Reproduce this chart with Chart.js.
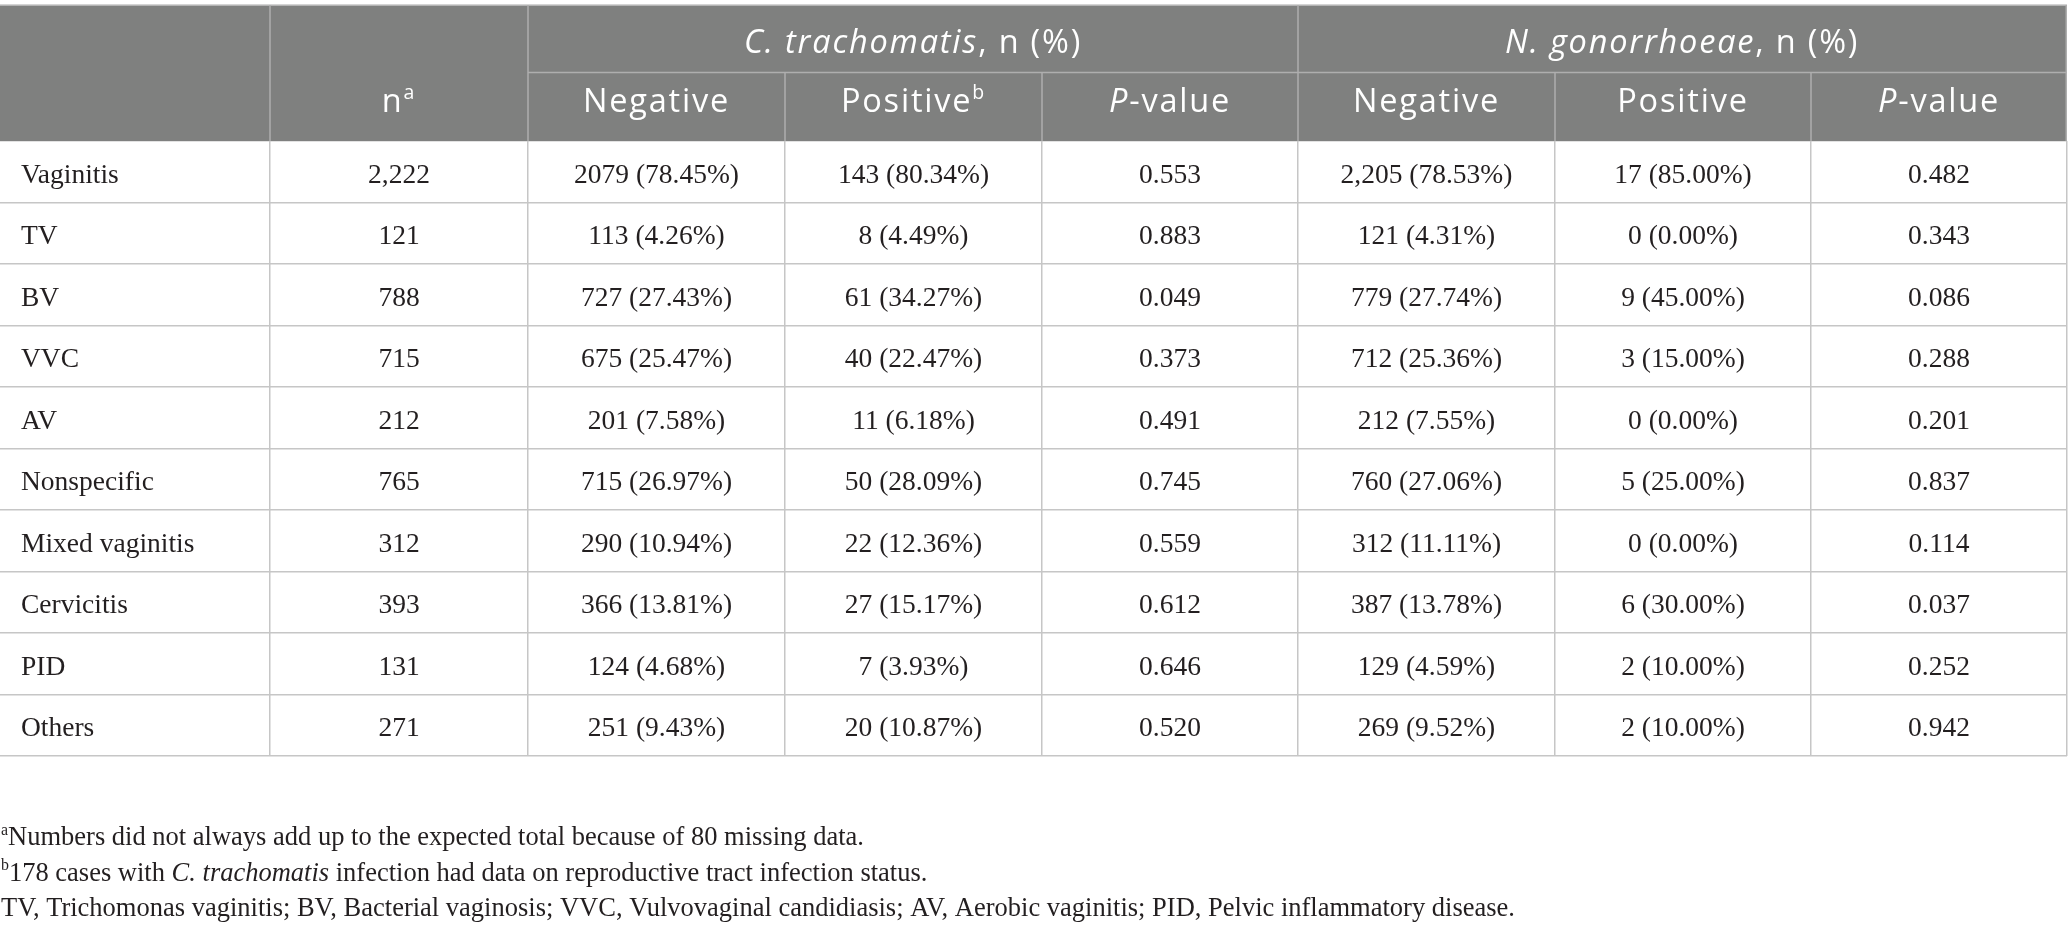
<!DOCTYPE html>
<html>
<head>
<meta charset="utf-8">
<script src="https://cdn.jsdelivr.net/npm/chart.js@4.4.1/dist/chart.umd.min.js"></script>
<style>
  html, body { margin: 0; padding: 0; background: #fff; }
</style>
</head>
<body>
<canvas id="tbl" width="2068" height="932"></canvas>
<script>
// row labels
var categories = ['Vaginitis', 'TV', 'BV', 'VVC', 'AV', 'Nonspecific', 'Mixed vaginitis', 'Cervicitis', 'PID', 'Others'];
var totalN = [2222, 121, 788, 715, 212, 765, 312, 393, 131, 271];

// C. trachomatis
var ctNegN = [2079, 113, 727, 675, 201, 715, 290, 366, 124, 251];
var ctNegPct = [78.45, 4.26, 27.43, 25.47, 7.58, 26.97, 10.94, 13.81, 4.68, 9.43];
var ctPosN = [143, 8, 61, 40, 11, 50, 22, 27, 7, 20];
var ctPosPct = [80.34, 4.49, 34.27, 22.47, 6.18, 28.09, 12.36, 15.17, 3.93, 10.87];
var ctP = [0.553, 0.883, 0.049, 0.373, 0.491, 0.745, 0.559, 0.612, 0.646, 0.520];

// N. gonorrhoeae
var ngNegN = [2205, 121, 779, 712, 212, 760, 312, 387, 129, 269];
var ngNegPct = [78.53, 4.31, 27.74, 25.36, 7.55, 27.06, 11.11, 13.78, 4.59, 9.52];
var ngPosN = [17, 0, 9, 3, 0, 5, 0, 6, 2, 2];
var ngPosPct = [85.00, 0.00, 45.00, 15.00, 0.00, 25.00, 0.00, 30.00, 10.00, 10.00];
var ngP = [0.482, 0.343, 0.086, 0.288, 0.201, 0.837, 0.114, 0.037, 0.252, 0.942];

var columns = ['group', 'n', 'ctNeg', 'ctPos', 'ctP', 'ngNeg', 'ngPos', 'ngP'];
var groupHeaders = [
  { from: 2, to: 5, runs: [{ t: 'C. trachomatis', i: true }, { t: ', n (%)' }] },
  { from: 5, to: 8, runs: [{ t: 'N. gonorrhoeae', i: true }, { t: ', n (%)' }] }
];
var subHeaders = [
  [],
  [{ t: 'n' }, { t: 'a', sup: true }],
  [{ t: 'Negative' }],
  [{ t: 'Positive' }, { t: 'b', sup: true }],
  [{ t: 'P', i: true }, { t: '-value' }],
  [{ t: 'Negative' }],
  [{ t: 'Positive' }],
  [{ t: 'P', i: true }, { t: '-value' }]
];
var footnotes = [
  [{ t: 'a', sup: true }, { t: 'Numbers did not always add up to the expected total because of 80 missing data.' }],
  [{ t: 'b', sup: true }, { t: '178 cases with ' }, { t: 'C. trachomatis', i: true }, { t: ' infection had data on reproductive tract infection status.' }],
  [{ t: 'TV, Trichomonas vaginitis; BV, Bacterial vaginosis; VVC, Vulvovaginal candidiasis; AV, Aerobic vaginitis; PID, Pelvic inflammatory disease.' }]
];

// layout: column widths (px units on the x scale)
var COL_W = [270, 258, 257, 257, 256, 257, 256, 256];
var colEdges = [0];
COL_W.forEach(function (w, i) { colEdges.push(colEdges[i] + w); });

var HEAD_BG = '#7f807f';
var HEAD_LINE = '#aeaeae';
var GRID = '#c6c6c6';
var TEXT = '#231f20';
var SANS = '"Open Sans", "Noto Sans", sans-serif';
var SERIF = '"Liberation Serif", "DejaVu Serif", serif';

function count(v, comma) {
  return comma ? v.toLocaleString('en-US') : String(v);
}
function np(n, pct, comma) {
  return count(n, comma) + ' (' + pct.toFixed(2) + '%)';
}
function cellText(r, c) {
  switch (c) {
    case 0: return categories[r];
    case 1: return count(totalN[r], true);
    case 2: return np(ctNegN[r], ctNegPct[r], false);
    case 3: return np(ctPosN[r], ctPosPct[r], false);
    case 4: return ctP[r].toFixed(3);
    case 5: return np(ngNegN[r], ngNegPct[r], true);
    case 6: return np(ngPosN[r], ngPosPct[r], false);
    case 7: return ngP[r].toFixed(3);
  }
}

// draws mixed runs (italic / superscript) on one baseline
function drawRuns(ctx, runs, x, base, align, size, family, color, spacing) {
  function font(r) {
    return (r.i ? 'italic ' : '') + (r.sup ? size * 0.6 : size) + 'px ' + family;
  }
  ctx.letterSpacing = (spacing || 0) + 'px';
  var w = 0;
  runs.forEach(function (r) { ctx.font = font(r); w += ctx.measureText(r.t).width; });
  var cx = align === 'center' ? x - w / 2 : x;
  ctx.fillStyle = color;
  ctx.textAlign = 'left';
  ctx.textBaseline = 'alphabetic';
  runs.forEach(function (r) {
    ctx.font = font(r);
    ctx.fillText(r.t, cx, r.sup ? base - size * 0.38 : base);
    cx += ctx.measureText(r.t).width;
  });
  ctx.letterSpacing = '0px';
}

var tablePlugin = {
  id: 'tableCells',
  afterDraw: function (chart) {
    var ctx = chart.ctx, xs = chart.scales.x, ys = chart.scales.y;
    var area = chart.chartArea;
    var headTop = 5, headMid = 72.5, headBot = area.top;
    function edge(i) { return Math.min(xs.getPixelForValue(colEdges[i]), xs.right - 0.75); }
    function mid(c) { return xs.getPixelForValue((colEdges[c] + colEdges[c + 1]) / 2); }
    function line(x1, y1, x2, y2, col) {
      ctx.beginPath(); ctx.strokeStyle = col; ctx.lineWidth = 1.5;
      ctx.moveTo(x1, y1); ctx.lineTo(x2, y2); ctx.stroke();
    }
    ctx.save();
    // header block
    ctx.fillStyle = HEAD_BG;
    ctx.fillRect(xs.left, headTop, xs.right - xs.left, headBot - headTop);
    line(xs.left, headTop, xs.right, headTop, GRID);
    [1, 2, 5, 8].forEach(function (i) { line(edge(i), headTop, edge(i), headBot, HEAD_LINE); });
    [3, 4, 6, 7].forEach(function (i) { line(edge(i), headMid, edge(i), headBot, HEAD_LINE); });
    line(edge(2), headMid, xs.right, headMid, HEAD_LINE);

    groupHeaders.forEach(function (g) {
      drawRuns(ctx, g.runs, (edge(g.from) + edge(g.to)) / 2, 53, 'center', 32.5, SANS, '#ffffff', 1.8);
    });
    subHeaders.forEach(function (runs, c) {
      if (runs.length) drawRuns(ctx, runs, mid(c), headMid + 39, 'center', 32.5, SANS, '#ffffff', 1.8);
    });

    // body cells
    categories.forEach(function (cat, r) {
      var base = ys.getPixelForValue(r) + 11;
      for (var c = 0; c < columns.length; c++) {
        var txt = cellText(r, c);
        if (c === 0) drawRuns(ctx, [{ t: txt }], edge(0) + 21, base, 'left', 27.5, SERIF, TEXT);
        else drawRuns(ctx, [{ t: txt }], mid(c), base, 'center', 27.5, SERIF, TEXT);
      }
    });

    // footnotes
    footnotes.forEach(function (runs, k) {
      drawRuns(ctx, runs, 1, area.bottom + 89 + k * 35.5, 'left', 26.5, SERIF, TEXT);
    });
    ctx.restore();
  }
};

var ctx = document.getElementById('tbl').getContext('2d');
var chart = new Chart(ctx, {
  type: 'bar',
  data: { labels: categories, datasets: [] },
  options: {
    responsive: false,
    animation: false,
    indexAxis: 'y',
    layout: { padding: { top: 141, bottom: 176, left: 0, right: 1 } },
    scales: {
      x: {
        type: 'linear',
        min: 0,
        max: colEdges[colEdges.length - 1],
        afterBuildTicks: function (scale) {
          scale.ticks = colEdges.map(function (v) { return { value: v }; });
        },
        grid: {
          drawTicks: false, lineWidth: 1.5,
          color: function (c) { return c.index === 0 ? 'rgba(0,0,0,0)' : GRID; }
        },
        border: { display: false },
        ticks: { display: false }
      },
      y: {
        type: 'category',
        labels: categories,
        offset: true,
        grid: { offset: true, drawTicks: false, lineWidth: 1.5, color: GRID },
        border: { display: false },
        ticks: { display: false }
      }
    },
    plugins: {
      legend: { display: false },
      tooltip: { enabled: false }
    }
  },
  plugins: [tablePlugin]
});
</script>
</body>
</html>
